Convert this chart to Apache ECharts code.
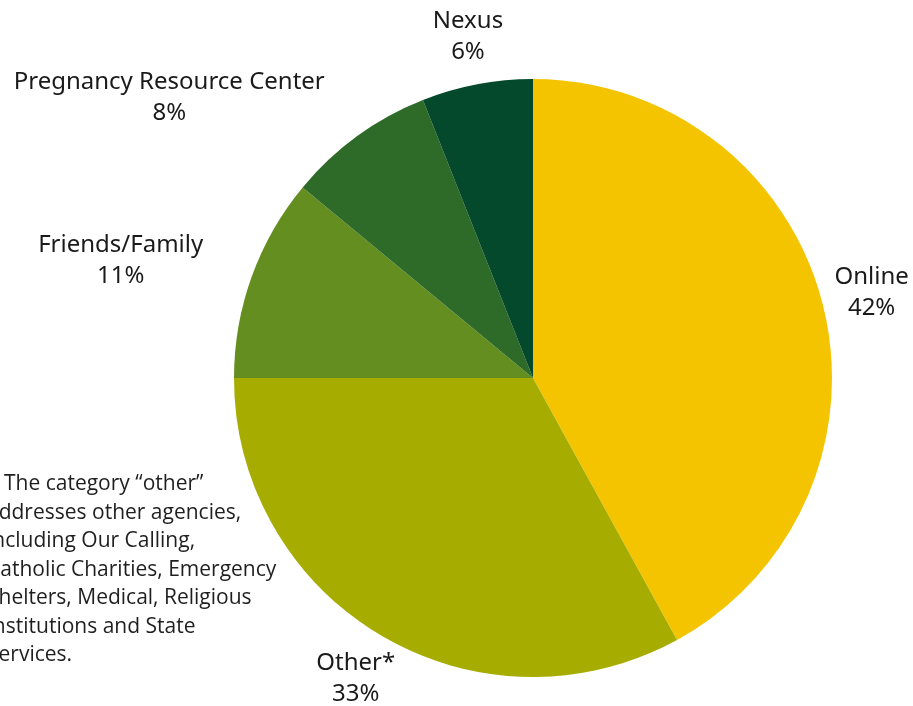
<!DOCTYPE html>
<html>
<head>
<meta charset="utf-8">
<script src="https://cdn.jsdelivr.net/npm/echarts@6/dist/echarts.min.js"></script>
<style>
    html, body { margin: 0; padding: 0; background: #fff; }
    #chartbox { width: 913px; height: 706px; }
</style>
</head>
<body>
<div id="chartbox"></div>
<script>
    // referral sources, clockwise from the top
    var categories = ['Online', 'Other*', 'Friends/Family', 'Pregnancy Resource Center', 'Nexus']
    var shares = [42, 33, 11, 8, 6]
    var sliceColors = ['#F5C400', '#A7AD00', '#648E1F', '#2E6B28', '#04492B']
    var footnote = '* The category \u201cother\u201d\naddresses other agencies,\nincluding Our Calling,\nCatholic Charities, Emergency\nShelters, Medical, Religious\nInstitutions and State\nServices.'

    var cx = 533, cy = 378, r = 299
    // nudge of each label's centre away from the rim point at the slice middle
    var labelNudge = [[49, -11], [-25, 43], [-131, -16], [-188, -38], [-9, -48]]

    var total = shares.reduce(function (a, b) { return a + b }, 0)
    var midAngles = []
    var acc = 0
    shares.forEach(function (v) {
        midAngles.push((acc + v / 2) / total * Math.PI * 2)
        acc += v
    })

    var mycharts = echarts.init(document.getElementById('chartbox'))
    var option = {
        animation: false,
        graphic: [{
            type: 'text',
            left: -13,
            top: 470,
            style: {
                text: footnote,
                font: '21px "Open Sans"',
                lineHeight: 28.5,
                fill: '#1f1f1f'
            }
        }],
        series: [{
            type: 'pie',
            center: [cx, cy],
            radius: [0, r],
            startAngle: 90,
            clockwise: true,
            silent: true,
            itemStyle: { borderWidth: 0 },
            label: {
                show: true,
                position: 'outside',
                formatter: '{b}\n{c}%',
                fontFamily: 'Noto Sans',
                fontSize: 24,
                lineHeight: 31,
                color: '#1a1a1a'
            },
            labelLine: { show: false, length: 0, length2: 0 },
            labelLayout: function (p) {
                var i = p.dataIndex
                var a = midAngles[i]
                return {
                    x: cx + Math.sin(a) * r + labelNudge[i][0],
                    y: cy - Math.cos(a) * r + labelNudge[i][1],
                    align: 'center',
                    verticalAlign: 'middle'
                }
            },
            data: categories.map(function (name, i) {
                return { name: name, value: shares[i], itemStyle: { color: sliceColors[i] } }
            })
        }]
    }
    mycharts.setOption(option)
</script>
</body>
</html>
